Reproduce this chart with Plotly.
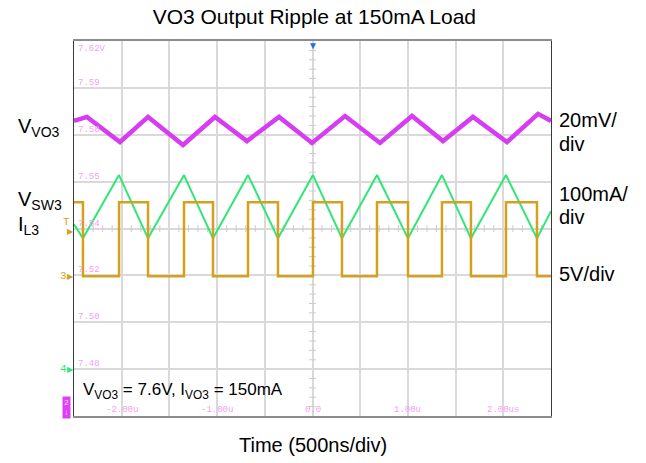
import numpy as np
import plotly.graph_objects as go

# ---------------- data ----------------
# VO3 ripple (channel 2, volts) - vertices of the triangle ripple
vo3_t = [-2.500, -2.364, -2.018, -1.724, -1.357, -1.022, -0.687, -0.351, -0.005,
         0.341, 0.708, 1.043, 1.368, 1.682, 2.039, 2.364, 2.500]
vo3_v = [7.5859, 7.5876, 7.5769, 7.5876, 7.5756, 7.5876, 7.5773, 7.5876, 7.5765,
         7.5880, 7.5765, 7.5880, 7.5773, 7.5876, 7.5769, 7.5889, 7.5859]

# Inductor current IL3 (channel 4, mA)
il3_t = [-2.500, -2.406, -2.028, -1.724, -1.347, -1.043, -0.676, -0.362, 0.005,
         0.309, 0.676, 1.001, 1.357, 1.661, 2.028, 2.353, 2.500]
il3_ma = [309, 279, 414, 279, 414, 279, 414, 279, 414,
          279, 414, 279, 414, 279, 414, 279, 337]

# Switch node VSW3 (channel 3, volts) - level changes
sw3_t = [-2.500, -2.406, -2.028, -1.724, -1.347, -1.043, -0.676, -0.362, 0.005,
         0.309, 0.676, 1.001, 1.357, 1.661, 2.028, 2.353, 2.500]
sw3_v = [7.8, -0.1, 7.8, -0.1, 7.8, -0.1, 7.8, -0.1, 7.8,
         -0.1, 7.8, -0.1, 7.8, -0.1, 7.8, -0.1, -0.1]

# axis / grid
x_range = [-2.5, 2.5]
x_grid = [-2.0, -1.5, -1.0, -0.5, 0.0, 0.5, 1.0, 1.5, 2.0]
x_label_vals = [-2.0, -1.0, 0.0, 1.0, 2.0]
x_label_text = ["-2.00u", "-1.00u", "0.0", "1.00u", "2.00us"]
y_range = [7.46, 7.62]
y_grid = [7.48, 7.50, 7.52, 7.54, 7.56, 7.58, 7.60]
y_label_vals = [7.62, 7.60, 7.58, 7.56, 7.54, 7.52, 7.50, 7.48]
y_label_text = ["7.62V", "7.59", "7.58", "7.55", "7.54", "7.52", "7.50", "7.48"]
il_range = [-100, 700]    # 100 mA/div, ground 3 div below centre
sw_range = [-15, 25]      # 5 V/div, ground 1 div below centre

MAG = "#d83cf2"
GRN = "#2fe676"
GLD = "#d4a11e"
PINK = "#f5a0f0"
FONT = "Arial, Liberation Sans, sans-serif"

fig = go.Figure()

# centre-line minor ticks (decoration)
hx = [v for v in np.round(np.arange(-2.5, 2.5001, 0.1), 3) if abs(v * 2 - round(v * 2)) > 1e-6]
vy = [v for v in np.round(np.arange(7.46, 7.6201, 0.004), 4) if abs(v * 50 - round(v * 50)) > 1e-6]
fig.add_trace(go.Scatter(x=hx, y=[7.54] * len(hx), mode="markers", hoverinfo="skip",
                         marker=dict(symbol="line-ns", size=5, line=dict(color="#cccccc", width=1)),
                         showlegend=False))
fig.add_trace(go.Scatter(x=[0.0] * len(vy), y=vy, mode="markers", hoverinfo="skip",
                         marker=dict(symbol="line-ew", size=5, line=dict(color="#cccccc", width=1)),
                         showlegend=False))

fig.add_trace(go.Scatter(x=sw3_t, y=sw3_v, yaxis="y3", mode="lines", line_shape="hv",
                         line=dict(color=GLD, width=2.5), showlegend=False))
fig.add_trace(go.Scatter(x=il3_t, y=il3_ma, yaxis="y2", mode="lines",
                         line=dict(color=GRN, width=2), showlegend=False))
fig.add_trace(go.Scatter(x=vo3_t, y=vo3_v, mode="lines",
                         line=dict(color=MAG, width=4.5), showlegend=False))

ann = []
# y labels (inside, pink monospace)
for v, t in zip(y_label_vals, y_label_text):
    top = v == y_range[1]
    ann.append(dict(x=0.004, xref="paper", y=v, yref="y", text=t, showarrow=False,
                    xanchor="left", yanchor="top" if top else "bottom",
                    yshift=-1 if top else -2,
                    font=dict(family="Liberation Mono, monospace", size=9, color=PINK)))
# x labels
for v, t in zip(x_label_vals, x_label_text):
    ann.append(dict(x=v, xref="x", y=0.0, yref="paper", text=t, showarrow=False,
                    xanchor="center", yanchor="bottom", yshift=-1,
                    font=dict(family="Liberation Mono, monospace", size=9, color=PINK)))

def txt(x, y, s, size=20, color="black", xanchor="left", family=FONT):
    ann.append(dict(x=x, y=y, xref="paper", yref="paper", text=s, showarrow=False,
                    xanchor=xanchor, yanchor="middle", font=dict(family=family, size=size, color=color)))

# right-hand scale labels
txt(1.0126, 0.788, "20mV/")
txt(1.0126, 0.726, "div")
txt(1.0126, 0.593, "100mA/")
txt(1.0126, 0.531, "div")
txt(1.0126, 0.379, "5V/div")
# left-hand channel labels
txt(-0.1216, 0.770, "V<sub>VO3</sub>")
txt(-0.1216, 0.574, "V<sub>SW3</sub>")
txt(-0.1216, 0.508, "I<sub>L3</sub>")
# conditions
txt(0.0147, 0.066, "V<sub>VO3</sub> = 7.6V, I<sub>VO3</sub> = 150mA", size=17)
# x title
txt(0.5, -0.077, "Time (500ns/div)", xanchor="center")

# scope channel markers (decoration)
txt(-0.016, 0.517, "T", size=11, color=GLD, xanchor="center", family="Liberation Mono")
txt(-0.008, 0.492, "▶", size=8, color=GLD, xanchor="center")
txt(-0.022, 0.374, "3", size=11, color=GLD, xanchor="center", family="Liberation Mono")
txt(-0.008, 0.372, "▶", size=8, color=GLD, xanchor="center")
txt(-0.022, 0.125, "4", size=11, color=GRN, xanchor="center", family="Liberation Mono")
txt(-0.008, 0.123, "▶", size=8, color=GRN, xanchor="center")
ann.append(dict(x=0.5, xref="paper", y=1.0, yref="paper", text="▼", showarrow=False,
                xanchor="center", yanchor="top", yshift=3,
                font=dict(family=FONT, size=10, color="#1f6fe5")))
ann.append(dict(x=-0.025, xref="paper", y=0.022, yref="paper", text="2<br>↓", showarrow=False,
                xanchor="left", yanchor="middle", bgcolor="#e040f5",
                font=dict(family="Liberation Mono", size=8, color="#ffd6ff"),
                borderpad=1))

# the page body adds an 8px offset, so the figure is 8px smaller and margins shifted
fig.update_layout(
    width=638, height=455,
    margin=dict(l=66, r=95, t=33, b=47),
    paper_bgcolor="white", plot_bgcolor="white",
    title=dict(text="VO3 Output Ripple at 150mA Load", x=0.4802, xanchor="center",
               y=0.980, yanchor="middle", font=dict(family=FONT, size=21, color="black")),
    xaxis=dict(range=x_range, tickvals=x_grid, showticklabels=False, ticks="",
               showgrid=True, gridcolor="#d9d9d9", gridwidth=1.5, zeroline=False,
               showline=True, linecolor="#8c8c8c", linewidth=2, mirror=True),
    yaxis=dict(range=y_range, tickvals=y_grid, showticklabels=False, ticks="",
               showgrid=True, gridcolor="#d9d9d9", gridwidth=1.5, zeroline=False,
               showline=True, linecolor="#3a3a3a", linewidth=1.2, mirror=True),
    yaxis2=dict(range=il_range, overlaying="y", visible=False),
    yaxis3=dict(range=sw_range, overlaying="y", visible=False),
    annotations=ann,
)

fig.write_html("out.html")
